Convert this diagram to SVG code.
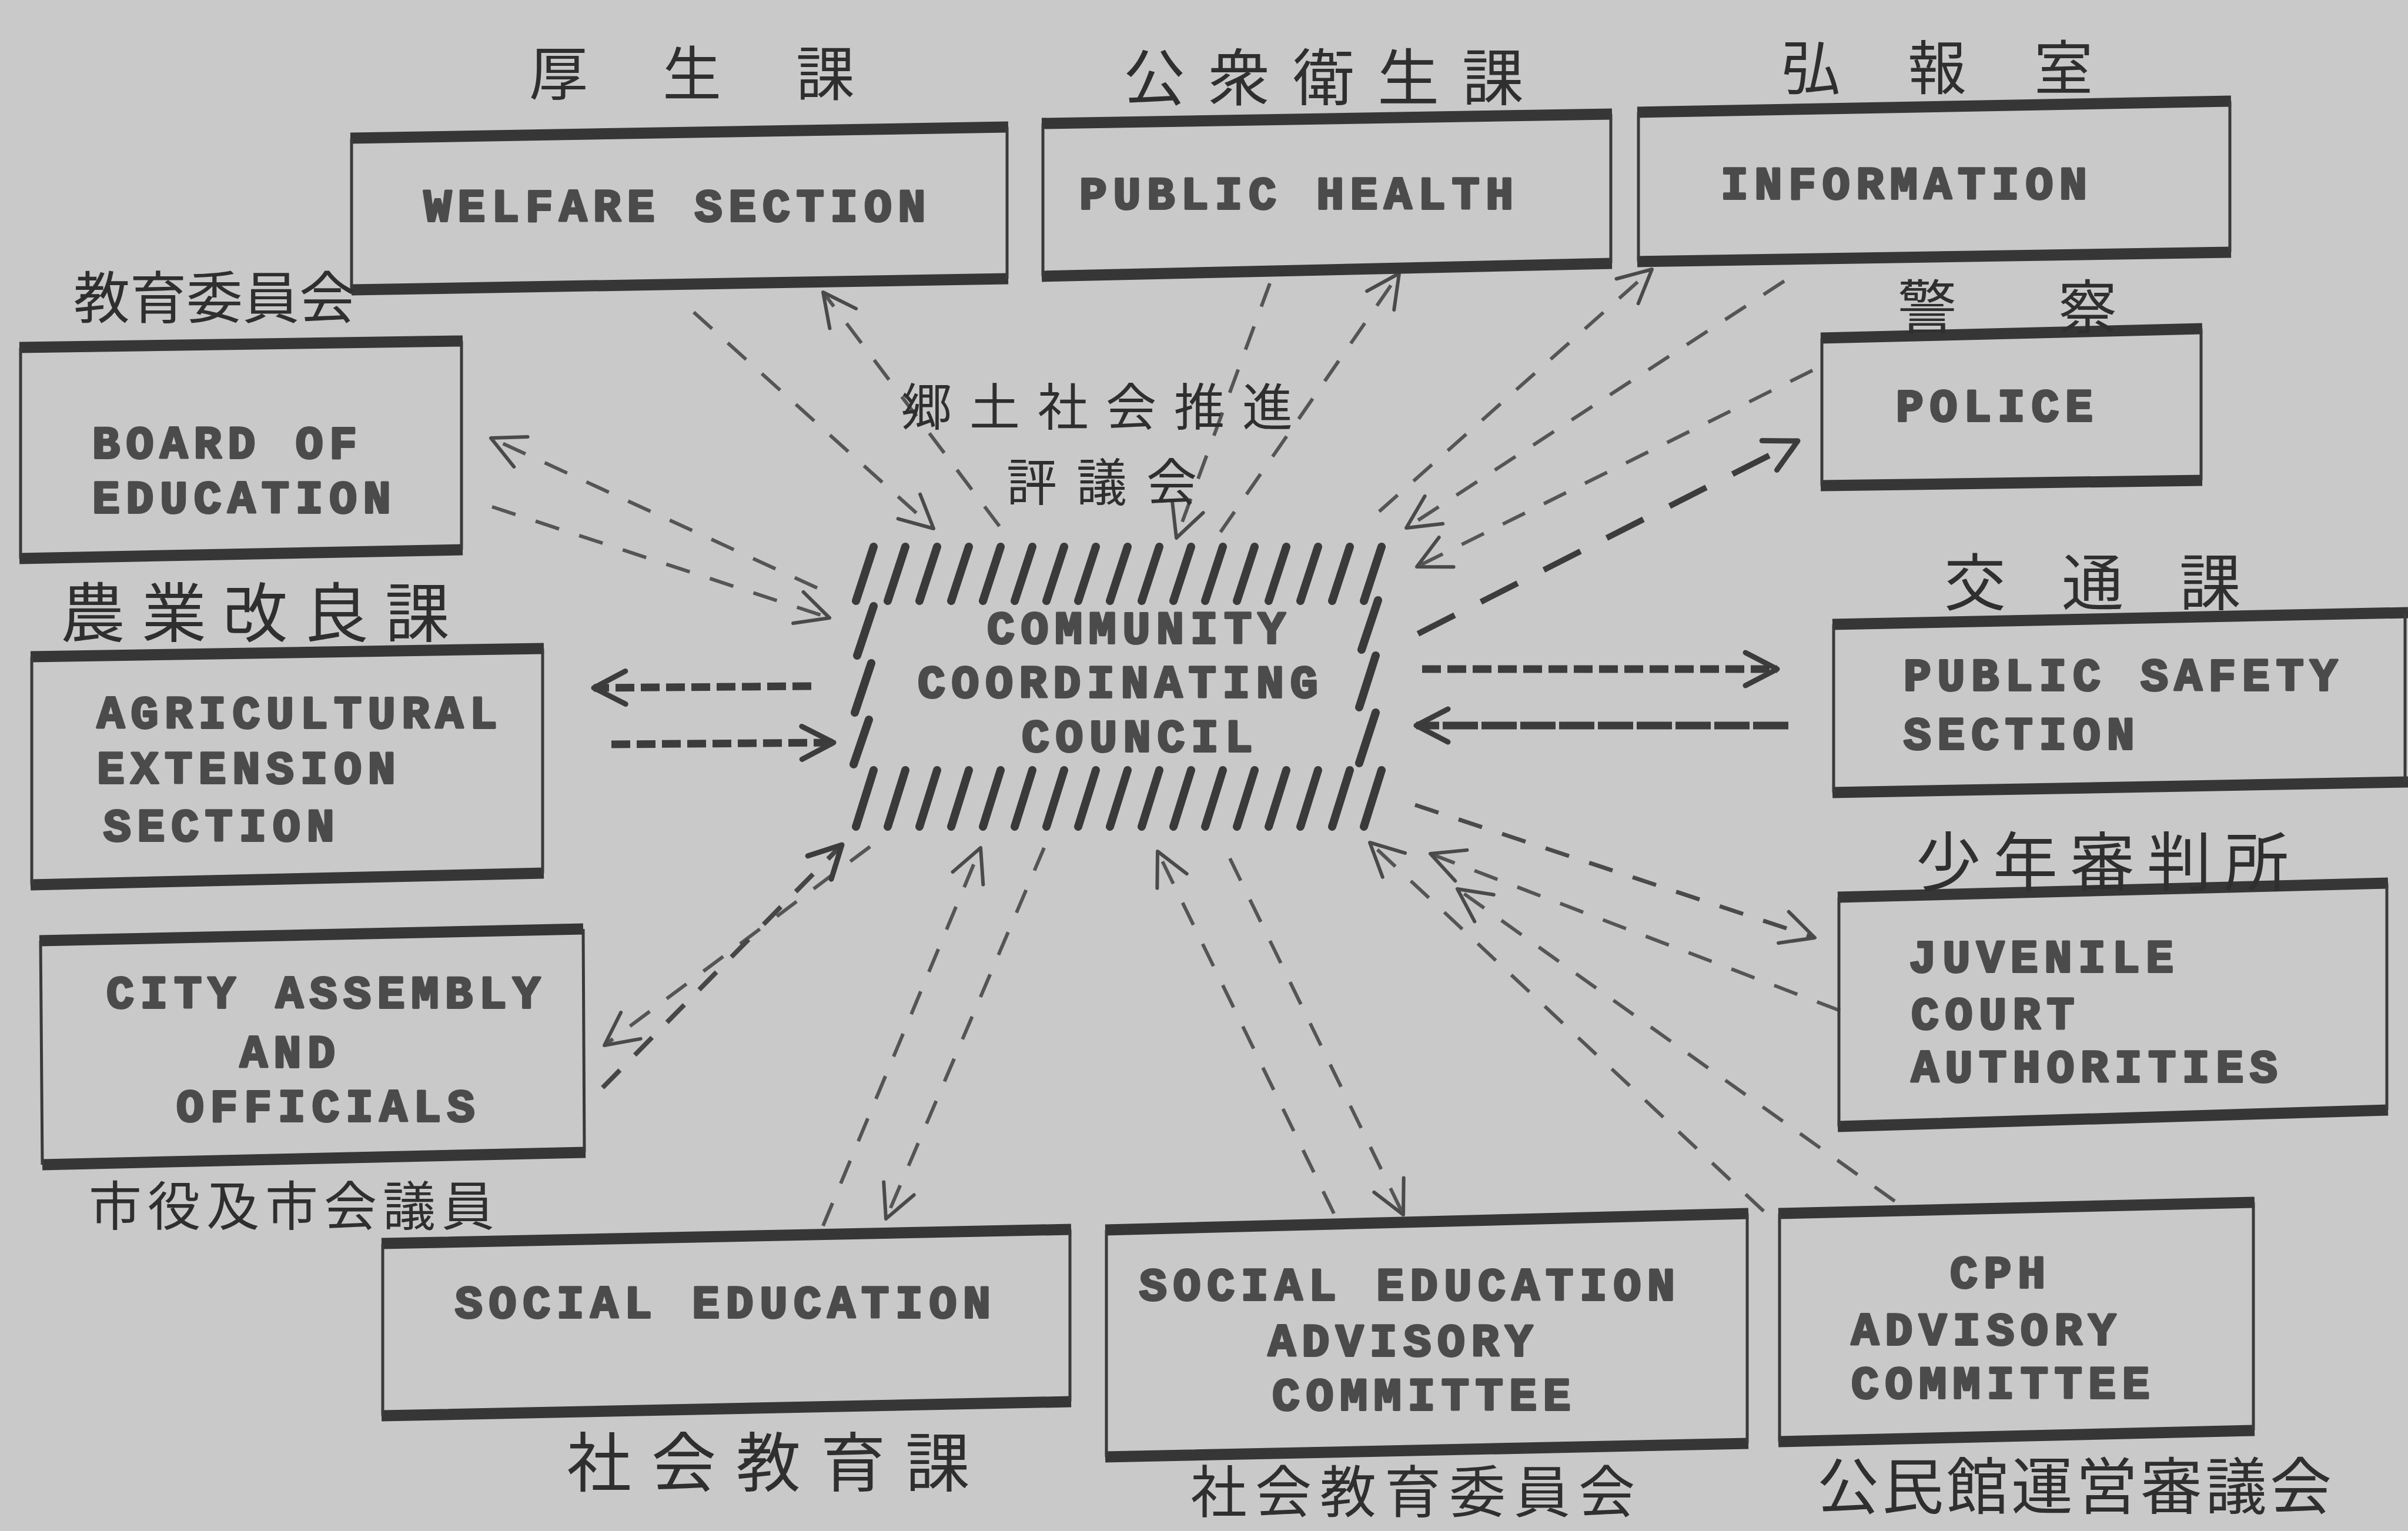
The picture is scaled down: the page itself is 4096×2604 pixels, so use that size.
<svg xmlns="http://www.w3.org/2000/svg" width="4096" height="2604" viewBox="0 0 4096 2604">
<style>
.bg{fill:#c9c9c9}
.eh{stroke:#363636;stroke-width:19;stroke-linecap:butt;fill:none}
.ev{stroke:#3a3a3a;stroke-width:5;fill:none}
.tw{font-family:"Liberation Mono","DejaVu Sans Mono",monospace;font-weight:bold;font-size:78px;letter-spacing:10.8px;fill:#4b4b4b;stroke:#4b4b4b;stroke-width:4;stroke-linejoin:round}
.jp{font-family:"Noto Sans CJK JP","Noto Sans CJK SC",sans-serif;font-weight:400;fill:#2f2f2f;dominant-baseline:central}
.hatch{stroke:#3a3a3a;stroke-width:14;stroke-linecap:round;fill:none}
.c{stroke:#555;stroke-width:6;stroke-dasharray:42 36;fill:none}
.ct{stroke:#3c3c3c;stroke-width:13;stroke-dasharray:32 11;fill:none}
.ah{stroke:#4a4a4a;stroke-width:6;fill:none;stroke-dasharray:none;stroke-linecap:round;stroke-linejoin:round}
.aht{stroke:#3c3c3c;stroke-width:9;fill:none;stroke-dasharray:none;stroke-linecap:round;stroke-linejoin:round}
</style>
<defs>
<marker id="arr" markerUnits="userSpaceOnUse" markerWidth="80" markerHeight="80" viewBox="0 0 80 80" refX="74" refY="40" orient="auto">
<path class="ah" d="M18,12 L74,40 L18,68"/>
</marker>
<marker id="arrT" markerUnits="userSpaceOnUse" markerWidth="80" markerHeight="80" viewBox="0 0 80 80" refX="74" refY="40" orient="auto">
<path class="aht" d="M20,12 L74,40 L20,68"/>
</marker>
</defs>
<rect class="bg" x="0" y="0" width="4096" height="2604"/>

<g id="connectors">
<path class="c" d="M1180,531 L1588,899" marker-end="url(#arr)"/>
<path class="c" d="M1700,895 L1400,497" marker-end="url(#arr)"/>
<path class="c" d="M1390,1000 L835,745" marker-end="url(#arr)"/>
<path class="c" d="M837,862 L1411,1051" marker-end="url(#arr)"/>
<path class="c" d="M1480,1440 L1028,1778" marker-end="url(#arr)"/>
<path class="c" style="stroke-width:8;stroke:#464646" d="M1025,1850 L1432,1437" marker-end="url(#arrT)"/>
<path class="c" d="M1776,1442 L1507,2073" marker-end="url(#arr)"/>
<path class="c" d="M1400,2085 L1668,1442" marker-end="url(#arr)"/>
<path class="c" d="M2092,1460 L2387,2066" marker-end="url(#arr)"/>
<path class="c" d="M2269,2064 L1969,1448" marker-end="url(#arr)"/>
<path class="c" d="M3000,2060 L2330,1433" marker-end="url(#arr)"/>
<path class="c" d="M3223,2043 L2479,1512" marker-end="url(#arr)"/>
<path class="c" d="M3130,1719 L2433,1452" marker-end="url(#arr)"/>
<path class="c" style="stroke-width:7;stroke:#4a4a4a" d="M2407,1369 L3087,1595" marker-end="url(#arr)"/>
<path class="c" d="M3083,630 L2410,964" marker-end="url(#arr)"/>
<path class="c" d="M3035,478 L2392,898" marker-end="url(#arr)"/>
<path class="c" d="M2346,870 L2810,458" marker-end="url(#arr)"/>
<path class="c" d="M2076,905 L2380,465" marker-end="url(#arr)"/>
<path class="c" d="M2160,482 L2001,915" marker-end="url(#arr)"/>
<path class="ct" d="M1380,1167 L1010,1170" marker-end="url(#arrT)"/>
<path class="ct" d="M1040,1266 L1418,1263" marker-end="url(#arrT)"/>
<path class="ct" d="M2419,1138 L3023,1138" marker-end="url(#arrT)"/>
<path class="ct" style="stroke-dasharray:60 6" d="M3042,1234 L2409,1234" marker-end="url(#arrT)"/>
<path class="ct" style="stroke-width:10;stroke-dasharray:70 50" d="M2412,1078 L3058,750" marker-end="url(#arrT)"/>
</g>

<g id="node-ccc">
<path class="hatch" d="M1456,1022 l30,-92 M1510,1022 l30,-92 M1564,1022 l30,-92 M1618,1022 l30,-92 M1672,1022 l30,-92 M1726,1022 l30,-92 M1780,1022 l30,-92 M1834,1022 l30,-92 M1888,1022 l30,-92 M1942,1022 l30,-92 M1996,1022 l30,-92 M2050,1022 l30,-92 M2104,1022 l30,-92 M2158,1022 l30,-92 M2212,1022 l30,-92 M2266,1022 l30,-92 M2320,1022 l30,-92"/>
<path class="hatch" d="M1456,1406 l30,-96 M1510,1406 l30,-96 M1564,1406 l30,-96 M1618,1406 l30,-96 M1672,1406 l30,-96 M1726,1406 l30,-96 M1780,1406 l30,-96 M1834,1406 l30,-96 M1888,1406 l30,-96 M1942,1406 l30,-96 M1996,1406 l30,-96 M2050,1406 l30,-96 M2104,1406 l30,-96 M2158,1406 l30,-96 M2212,1406 l30,-96 M2266,1406 l30,-96 M2320,1406 l30,-96"/>
<path class="hatch" d="M1458,1115 l28,-84 M1454,1212 l28,-84 M1452,1300 l26,-76 M2316,1105 l28,-84 M2312,1203 l28,-88 M2312,1298 l28,-86"/>
<text class="tw" x="1679" y="1094">COMMUNITY</text>
<text class="tw" x="1561" y="1186">COORDINATING</text>
<text class="tw" x="1738" y="1278">COUNCIL</text>
<text class="jp" x="1533" y="686" font-size="86" letter-spacing="30">郷土社会推進</text>
<text class="jp" x="1712" y="814" font-size="86" letter-spacing="33">評議会</text>
</g>

<g id="node-welfare">
<path class="eh" d="M596,235 L1715,216 M598,493 L1715,474"/>
<path class="ev" d="M598,235 L598,493 M1713,216 L1713,474"/>
<text class="tw" x="721" y="376">WELFARE SECTION</text>
<text class="jp" x="900" y="118" font-size="100" letter-spacing="127">厚生課</text>
</g>

<g id="node-public-health">
<path class="eh" d="M1772,210 L2742,194 M1772,470 L2742,448"/>
<path class="ev" d="M1774,210 L1774,470 M2740,194 L2740,448"/>
<text class="tw" x="1836" y="355">PUBLIC HEALTH</text>
<text class="jp" x="1911" y="124" font-size="105" letter-spacing="39">公衆衛生課</text>
</g>

<g id="node-information">
<path class="eh" d="M2785,191 L3795,172 M2785,445 L3795,429"/>
<path class="ev" d="M2787,191 L2787,445 M3793,172 L3793,429"/>
<text class="tw" x="2927" y="338">INFORMATION</text>
<text class="jp" x="3030" y="108" font-size="100" letter-spacing="115">弘報室</text>
</g>

<g id="node-police">
<path class="eh" d="M3097,575 L3746,559 M3097,826 L3746,817"/>
<path class="ev" d="M3099,575 L3099,826 M3744,559 L3744,817"/>
<text class="tw" x="3225" y="716">POLICE</text>
<text class="jp" x="3228" y="515" font-size="100" letter-spacing="173">警察</text>
</g>

<g id="node-board-of-education">
<path class="eh" d="M33,591 L787,580 M33,950 L787,935"/>
<path class="ev" d="M35,591 L35,950 M785,580 L785,935"/>
<text class="tw" x="157" y="779">BOARD OF</text>
<text class="tw" x="157" y="872">EDUCATION</text>
<text class="jp" x="125" y="499" font-size="96">教育委員会</text>
</g>

<g id="node-agricultural">
<path class="eh" d="M52,1117 L925,1103 M52,1505 L925,1485"/>
<path class="ev" d="M54,1117 L54,1505 M923,1103 L923,1485"/>
<text class="tw" x="165" y="1238">AGRICULTURAL</text>
<text class="tw" x="165" y="1332">EXTENSION</text>
<text class="tw" x="176" y="1430">SECTION</text>
<text class="jp" x="103" y="1035" font-size="110" letter-spacing="28">農業改良課</text>
</g>

<g id="node-city-assembly">
<path class="eh" d="M67,1600 L992,1580 M72,1981 L996,1960"/>
<path class="ev" d="M69,1600 L72,1981 M992,1580 L994,1960"/>
<text class="tw" x="181" y="1714">CITY ASSEMBLY</text>
<text class="tw" x="408" y="1815">AND</text>
<text class="tw" x="300" y="1907">OFFICIALS</text>
<text class="jp" x="151" y="2045" font-size="90" letter-spacing="10">市役及市会議員</text>
</g>

<g id="node-public-safety">
<path class="eh" d="M3117,1062 L4096,1042 M3117,1348 L4096,1330"/>
<path class="ev" d="M3119,1062 L3119,1348 M4091,1042 L4091,1330"/>
<text class="tw" x="3238" y="1174">PUBLIC SAFETY</text>
<text class="tw" x="3238" y="1274">SECTION</text>
<text class="jp" x="3307" y="983" font-size="105" letter-spacing="95">交通課</text>
</g>

<g id="node-juvenile">
<path class="eh" d="M3126,1526 L4062,1502 M3126,1916 L4062,1888"/>
<path class="ev" d="M3128,1526 L3128,1916 M4060,1502 L4060,1888"/>
<text class="tw" x="3247" y="1653">JUVENILE</text>
<text class="tw" x="3251" y="1750">COURT</text>
<text class="tw" x="3251" y="1840">AUTHORITIES</text>
<text class="jp" x="3259" y="1459" font-size="110" letter-spacing="21">少年審判所</text>
</g>

<g id="node-social-education">
<path class="eh" d="M649,2115 L1822,2091 M649,2408 L1822,2384"/>
<path class="ev" d="M651,2115 L651,2408 M1820,2091 L1820,2384"/>
<text class="tw" x="774" y="2241">SOCIAL EDUCATION</text>
<text class="jp" x="964" y="2480" font-size="110" letter-spacing="34">社会教育課</text>
</g>

<g id="node-social-education-advisory">
<path class="eh" d="M1880,2092 L2974,2064 M1880,2478 L2974,2455"/>
<path class="ev" d="M1882,2092 L1882,2478 M2972,2064 L2972,2455"/>
<text class="tw" x="1938" y="2211">SOCIAL EDUCATION</text>
<text class="tw" x="2157" y="2306">ADVISORY</text>
<text class="tw" x="2164" y="2398">COMMITTEE</text>
<text class="jp" x="2025" y="2530" font-size="96" letter-spacing="14">社会教育委員会</text>
</g>

<g id="node-cph-advisory">
<path class="eh" d="M3025,2064 L3835,2045 M3025,2452 L3835,2433"/>
<path class="ev" d="M3027,2064 L3027,2452 M3833,2045 L3833,2433"/>
<text class="tw" x="3317" y="2190">CPH</text>
<text class="tw" x="3149" y="2287">ADVISORY</text>
<text class="tw" x="3149" y="2378">COMMITTEE</text>
<text class="jp" x="3091" y="2520" font-size="105" letter-spacing="5">公民館運営審議会</text>
</g>
</svg>
